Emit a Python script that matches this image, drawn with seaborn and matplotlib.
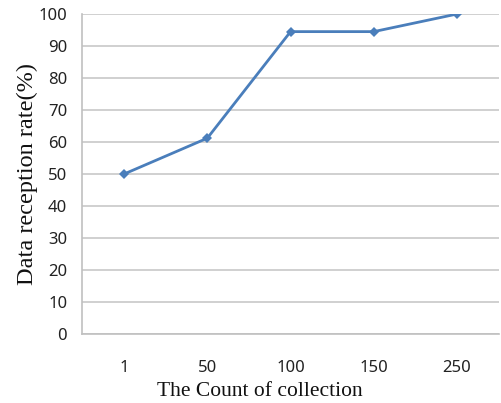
import matplotlib
matplotlib.use("Agg")
import matplotlib.pyplot as plt
import seaborn as sns
import pandas as pd

categories = ["1", "50", "100", "150", "250"]
values = [50, 61.2, 94.5, 94.5, 100]

df = pd.DataFrame({"count": categories, "rate": values})

sns.set_theme(style="white")
plt.rcParams['font.family'] = ['Noto Sans', 'DejaVu Sans']

fig = plt.figure(figsize=(5.02, 4.03), dpi=100)
ax = fig.add_axes([0.1643, 0.1712, 0.829, 0.794])

sns.lineplot(data=df, x="count", y="rate", sort=False, ax=ax, color="#4a7ebb",
             linewidth=2, marker="D", markersize=5.5, markeredgewidth=0)

ax.set_xlim(-0.5, 4.5)
ax.set_ylim(0, 100)
ax.set_yticks(range(0, 101, 10))
ax.yaxis.grid(True, color="#c8c8c8", linewidth=1.2)
ax.xaxis.grid(False)
for s in ["top", "right"]:
    ax.spines[s].set_visible(False)
for s in ["left", "bottom"]:
    ax.spines[s].set_color("#c0c0c0")
    ax.spines[s].set_linewidth(1.2)
ax.tick_params(axis="x", length=0, pad=19, labelsize=12, colors="#222222")
ax.tick_params(axis="y", length=0, pad=11, labelsize=12, colors="#222222")

ax.set_xlabel("The Count of collection", fontfamily="Liberation Serif", fontsize=15.5, color="#111111")
ax.xaxis.set_label_coords(0.427, -0.15)
ax.set_ylabel("Data reception rate(%)", fontfamily="Liberation Serif", fontsize=17.5, labelpad=0, color="#111111")

fig.savefig("out.png", dpi=100)
